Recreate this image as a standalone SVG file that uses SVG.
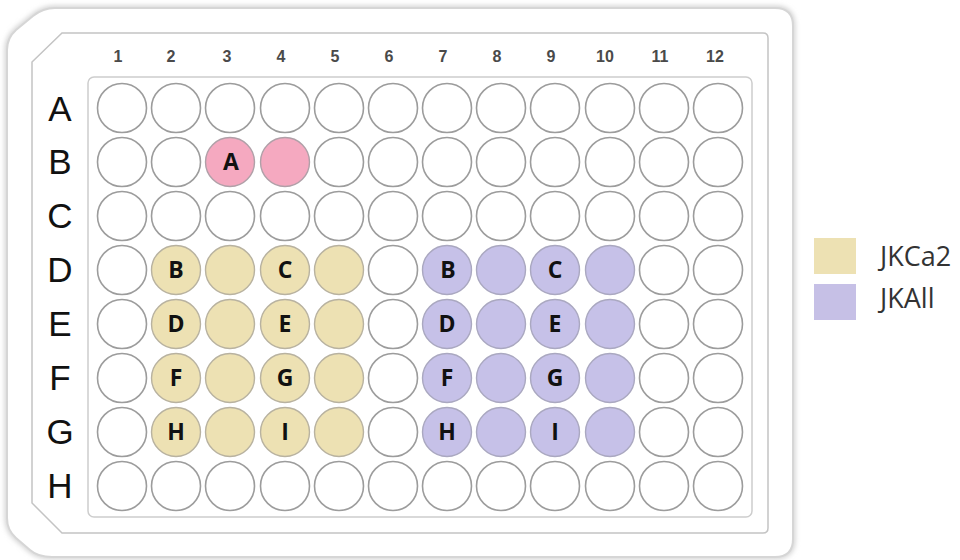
<svg xmlns="http://www.w3.org/2000/svg" width="960" height="560" viewBox="0 0 960 560">
<defs>
<filter id="sh" x="-5%" y="-5%" width="110%" height="110%"><feGaussianBlur stdDeviation="2.5"/></filter>
</defs>
<style>
.w{fill:#fff;stroke:#9c9c9c;stroke-width:1.6}
.p{fill:#f5a9c0;stroke:#b0a0a8;stroke-width:1.4}
.y{fill:#ede1b3;stroke:#b8b2a0;stroke-width:1.4}
.v{fill:#c6c1e8;stroke:#aaa8c0;stroke-width:1.4}
.wl{font-family:"Open Sans","Liberation Sans",sans-serif;font-weight:bold;font-size:23px;fill:#111;text-anchor:middle}
.cl{font-family:"Liberation Sans",Arial,sans-serif;font-weight:bold;font-size:16px;fill:#4a4a4a;text-anchor:middle}
.rl{font-family:"Liberation Sans",Arial,sans-serif;font-size:35px;fill:#111;text-anchor:middle}
.lg{font-family:"Open Sans","Liberation Sans",sans-serif;font-size:27px;fill:#333}
</style>
<rect width="960" height="560" fill="#fff"/>
<g id="plate">
<path d="M7 50 L7 518 Q7 530 16 538 L30 550 Q38 557 52 557 L775 557 Q793 557 793 539 L793 26 Q793 8 775 8 L55 8 Q43 8 33 16 L16 30 Q7 38 7 50 Z" fill="none" stroke="#c8c8c8" stroke-width="4" filter="url(#sh)"/>
<path d="M7 50 L7 518 Q7 530 16 538 L30 550 Q38 557 52 557 L775 557 Q793 557 793 539 L793 26 Q793 8 775 8 L55 8 Q43 8 33 16 L16 30 Q7 38 7 50 Z" fill="#fff" stroke="#d6d6d6" stroke-width="2"/>
<path d="M32 62 L62 33 L763 33 Q768 33 768 38 L768 528 Q768 533 763 533 L62 533 L32 503 Z" fill="#fff" stroke="#c4c4c4" stroke-width="1.5"/>
<rect x="88" y="77" width="664" height="440" rx="6" fill="#fff" stroke="#cdcdcd" stroke-width="1.5"/>
</g>
<g id="column-labels">
<text class="cl" x="118" y="62">1</text>
<text class="cl" x="171" y="62">2</text>
<text class="cl" x="227" y="62">3</text>
<text class="cl" x="281" y="62">4</text>
<text class="cl" x="335" y="62">5</text>
<text class="cl" x="389" y="62">6</text>
<text class="cl" x="443" y="62">7</text>
<text class="cl" x="497" y="62">8</text>
<text class="cl" x="551" y="62">9</text>
<text class="cl" x="605" y="62">10</text>
<text class="cl" x="660" y="62">11</text>
<text class="cl" x="715" y="62">12</text>
</g>
<g id="row-labels">
<text class="rl" x="60" y="121">A</text>
<text class="rl" x="60" y="174">B</text>
<text class="rl" x="60" y="228">C</text>
<text class="rl" x="60" y="282">D</text>
<text class="rl" x="60" y="336">E</text>
<text class="rl" x="60" y="390">F</text>
<text class="rl" x="60" y="444">G</text>
<text class="rl" x="60" y="498">H</text>
</g>
<g id="connectors"/>
<g id="row-A">
<g id="well-A1"><circle class="w" cx="122" cy="108" r="24.5"/></g>
<g id="well-A2"><circle class="w" cx="176" cy="108" r="24.5"/></g>
<g id="well-A3"><circle class="w" cx="230" cy="108" r="24.5"/></g>
<g id="well-A4"><circle class="w" cx="285" cy="108" r="24.5"/></g>
<g id="well-A5"><circle class="w" cx="339" cy="108" r="24.5"/></g>
<g id="well-A6"><circle class="w" cx="393" cy="108" r="24.5"/></g>
<g id="well-A7"><circle class="w" cx="447" cy="108" r="24.5"/></g>
<g id="well-A8"><circle class="w" cx="501" cy="108" r="24.5"/></g>
<g id="well-A9"><circle class="w" cx="555" cy="108" r="24.5"/></g>
<g id="well-A10"><circle class="w" cx="610" cy="108" r="24.5"/></g>
<g id="well-A11"><circle class="w" cx="664" cy="108" r="24.5"/></g>
<g id="well-A12"><circle class="w" cx="718" cy="108" r="24.5"/></g>
</g>
<g id="row-B">
<g id="well-B1"><circle class="w" cx="122" cy="162" r="24.5"/></g>
<g id="well-B2"><circle class="w" cx="176" cy="162" r="24.5"/></g>
<g id="well-B3"><circle class="p" cx="230" cy="162" r="24.5"/><text class="wl" x="231" y="170">A</text></g>
<g id="well-B4"><circle class="p" cx="285" cy="162" r="24.5"/></g>
<g id="well-B5"><circle class="w" cx="339" cy="162" r="24.5"/></g>
<g id="well-B6"><circle class="w" cx="393" cy="162" r="24.5"/></g>
<g id="well-B7"><circle class="w" cx="447" cy="162" r="24.5"/></g>
<g id="well-B8"><circle class="w" cx="501" cy="162" r="24.5"/></g>
<g id="well-B9"><circle class="w" cx="555" cy="162" r="24.5"/></g>
<g id="well-B10"><circle class="w" cx="610" cy="162" r="24.5"/></g>
<g id="well-B11"><circle class="w" cx="664" cy="162" r="24.5"/></g>
<g id="well-B12"><circle class="w" cx="718" cy="162" r="24.5"/></g>
</g>
<g id="row-C">
<g id="well-C1"><circle class="w" cx="122" cy="216" r="24.5"/></g>
<g id="well-C2"><circle class="w" cx="176" cy="216" r="24.5"/></g>
<g id="well-C3"><circle class="w" cx="230" cy="216" r="24.5"/></g>
<g id="well-C4"><circle class="w" cx="285" cy="216" r="24.5"/></g>
<g id="well-C5"><circle class="w" cx="339" cy="216" r="24.5"/></g>
<g id="well-C6"><circle class="w" cx="393" cy="216" r="24.5"/></g>
<g id="well-C7"><circle class="w" cx="447" cy="216" r="24.5"/></g>
<g id="well-C8"><circle class="w" cx="501" cy="216" r="24.5"/></g>
<g id="well-C9"><circle class="w" cx="555" cy="216" r="24.5"/></g>
<g id="well-C10"><circle class="w" cx="610" cy="216" r="24.5"/></g>
<g id="well-C11"><circle class="w" cx="664" cy="216" r="24.5"/></g>
<g id="well-C12"><circle class="w" cx="718" cy="216" r="24.5"/></g>
</g>
<g id="row-D">
<g id="well-D1"><circle class="w" cx="122" cy="270" r="24.5"/></g>
<g id="well-D2"><circle class="y" cx="176" cy="270" r="24.5"/><text class="wl" x="176" y="278">B</text></g>
<g id="well-D3"><circle class="y" cx="230" cy="270" r="24.5"/></g>
<g id="well-D4"><circle class="y" cx="285" cy="270" r="24.5"/><text class="wl" x="285" y="278">C</text></g>
<g id="well-D5"><circle class="y" cx="339" cy="270" r="24.5"/></g>
<g id="well-D6"><circle class="w" cx="393" cy="270" r="24.5"/></g>
<g id="well-D7"><circle class="v" cx="447" cy="270" r="24.5"/><text class="wl" x="448" y="278">B</text></g>
<g id="well-D8"><circle class="v" cx="501" cy="270" r="24.5"/></g>
<g id="well-D9"><circle class="v" cx="555" cy="270" r="24.5"/><text class="wl" x="555" y="278">C</text></g>
<g id="well-D10"><circle class="v" cx="610" cy="270" r="24.5"/></g>
<g id="well-D11"><circle class="w" cx="664" cy="270" r="24.5"/></g>
<g id="well-D12"><circle class="w" cx="718" cy="270" r="24.5"/></g>
</g>
<g id="row-E">
<g id="well-E1"><circle class="w" cx="122" cy="324" r="24.5"/></g>
<g id="well-E2"><circle class="y" cx="176" cy="324" r="24.5"/><text class="wl" x="176" y="332">D</text></g>
<g id="well-E3"><circle class="y" cx="230" cy="324" r="24.5"/></g>
<g id="well-E4"><circle class="y" cx="285" cy="324" r="24.5"/><text class="wl" x="285" y="332">E</text></g>
<g id="well-E5"><circle class="y" cx="339" cy="324" r="24.5"/></g>
<g id="well-E6"><circle class="w" cx="393" cy="324" r="24.5"/></g>
<g id="well-E7"><circle class="v" cx="447" cy="324" r="24.5"/><text class="wl" x="447" y="332">D</text></g>
<g id="well-E8"><circle class="v" cx="501" cy="324" r="24.5"/></g>
<g id="well-E9"><circle class="v" cx="555" cy="324" r="24.5"/><text class="wl" x="555" y="332">E</text></g>
<g id="well-E10"><circle class="v" cx="610" cy="324" r="24.5"/></g>
<g id="well-E11"><circle class="w" cx="664" cy="324" r="24.5"/></g>
<g id="well-E12"><circle class="w" cx="718" cy="324" r="24.5"/></g>
</g>
<g id="row-F">
<g id="well-F1"><circle class="w" cx="122" cy="378" r="24.5"/></g>
<g id="well-F2"><circle class="y" cx="176" cy="378" r="24.5"/><text class="wl" x="176" y="386">F</text></g>
<g id="well-F3"><circle class="y" cx="230" cy="378" r="24.5"/></g>
<g id="well-F4"><circle class="y" cx="285" cy="378" r="24.5"/><text class="wl" x="285" y="386">G</text></g>
<g id="well-F5"><circle class="y" cx="339" cy="378" r="24.5"/></g>
<g id="well-F6"><circle class="w" cx="393" cy="378" r="24.5"/></g>
<g id="well-F7"><circle class="v" cx="447" cy="378" r="24.5"/><text class="wl" x="447" y="386">F</text></g>
<g id="well-F8"><circle class="v" cx="501" cy="378" r="24.5"/></g>
<g id="well-F9"><circle class="v" cx="555" cy="378" r="24.5"/><text class="wl" x="555" y="386">G</text></g>
<g id="well-F10"><circle class="v" cx="610" cy="378" r="24.5"/></g>
<g id="well-F11"><circle class="w" cx="664" cy="378" r="24.5"/></g>
<g id="well-F12"><circle class="w" cx="718" cy="378" r="24.5"/></g>
</g>
<g id="row-G">
<g id="well-G1"><circle class="w" cx="122" cy="432" r="24.5"/></g>
<g id="well-G2"><circle class="y" cx="176" cy="432" r="24.5"/><text class="wl" x="176" y="440">H</text></g>
<g id="well-G3"><circle class="y" cx="230" cy="432" r="24.5"/></g>
<g id="well-G4"><circle class="y" cx="285" cy="432" r="24.5"/><text class="wl" x="285" y="440">I</text></g>
<g id="well-G5"><circle class="y" cx="339" cy="432" r="24.5"/></g>
<g id="well-G6"><circle class="w" cx="393" cy="432" r="24.5"/></g>
<g id="well-G7"><circle class="v" cx="447" cy="432" r="24.5"/><text class="wl" x="447" y="440">H</text></g>
<g id="well-G8"><circle class="v" cx="501" cy="432" r="24.5"/></g>
<g id="well-G9"><circle class="v" cx="555" cy="432" r="24.5"/><text class="wl" x="555" y="440">I</text></g>
<g id="well-G10"><circle class="v" cx="610" cy="432" r="24.5"/></g>
<g id="well-G11"><circle class="w" cx="664" cy="432" r="24.5"/></g>
<g id="well-G12"><circle class="w" cx="718" cy="432" r="24.5"/></g>
</g>
<g id="row-H">
<g id="well-H1"><circle class="w" cx="122" cy="486" r="24.5"/></g>
<g id="well-H2"><circle class="w" cx="176" cy="486" r="24.5"/></g>
<g id="well-H3"><circle class="w" cx="230" cy="486" r="24.5"/></g>
<g id="well-H4"><circle class="w" cx="285" cy="486" r="24.5"/></g>
<g id="well-H5"><circle class="w" cx="339" cy="486" r="24.5"/></g>
<g id="well-H6"><circle class="w" cx="393" cy="486" r="24.5"/></g>
<g id="well-H7"><circle class="w" cx="447" cy="486" r="24.5"/></g>
<g id="well-H8"><circle class="w" cx="501" cy="486" r="24.5"/></g>
<g id="well-H9"><circle class="w" cx="555" cy="486" r="24.5"/></g>
<g id="well-H10"><circle class="w" cx="610" cy="486" r="24.5"/></g>
<g id="well-H11"><circle class="w" cx="664" cy="486" r="24.5"/></g>
<g id="well-H12"><circle class="w" cx="718" cy="486" r="24.5"/></g>
</g>
<g id="legend">
<g id="legend-JKCa2"><rect x="814" y="238" width="42" height="36" fill="#ede1b3"/><text class="lg" x="880" y="266">JKCa2</text></g>
<g id="legend-JKAll"><rect x="814" y="284" width="42" height="36" fill="#c6c0e6"/><text class="lg" x="880" y="308">JKAll</text></g>
</g>
</svg>
